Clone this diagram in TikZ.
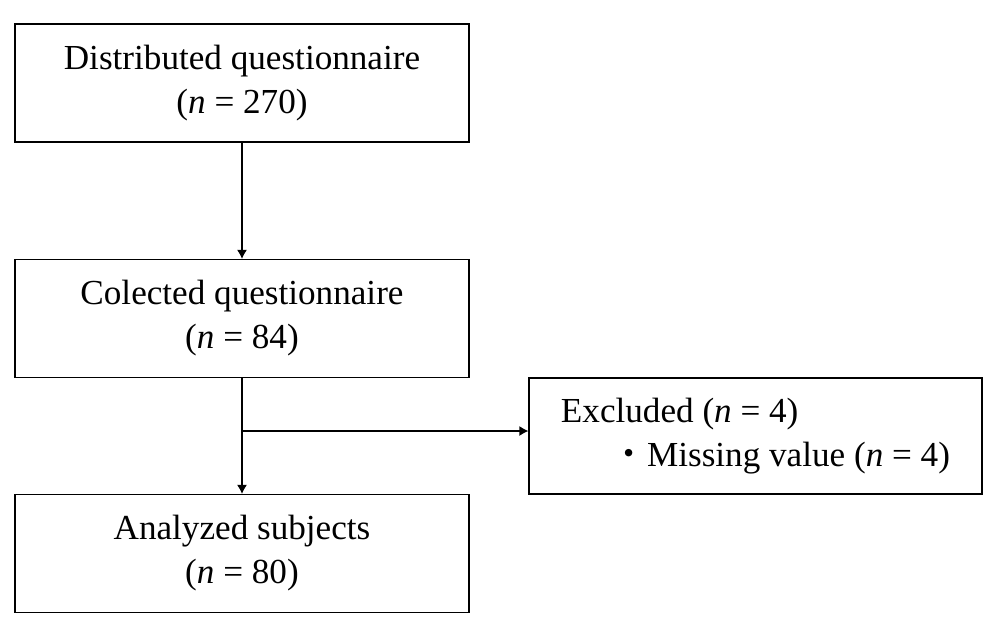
\documentclass[tikz,border=0pt]{standalone}
\usepackage{fontspec}
\setmainfont{Liberation Serif}
\newfontfamily\cjk{Noto Sans CJK JP}
\usetikzlibrary{arrows.meta}

\begin{document}
\begin{tikzpicture}[box/.style={draw,line width=0.7pt,minimum width=9.08cm,minimum height=2.36cm,align=center,font=\fontsize{20}{25}\selectfont},
	flow/.style={line width=0.7pt,-{Latex[length=1.8mm,width=2mm]}}]
				\useasboundingbox (0,0) rectangle (20,-12.66);
				\node[box] (dist) at (4.84,-1.66) {Distributed questionnaire\\(\textit{n} = 270)};
				\node[box] (coll) at (4.84,-6.37) {Colected questionnaire\\(\textit{n} = 84)};
				\node[box] (anal) at (4.84,-11.07) {Analyzed subjects\\(\textit{n} = 80)};
				\node[box,align=left,minimum width=9.06cm,minimum height=2.32cm] (excl) at (15.11,-8.72) {Excluded (\textit{n} = 4)\\\hspace*{1.45em}{\cjk ・}Missing value (\textit{n} = 4)};
				\coordinate (split) at (4.84,-8.62);
				\draw[flow] (dist) -- (coll);
				\draw[line width=0.7pt] (coll) -- (split);
				\draw[flow] (split) -- (anal);
				\draw[flow] (split) -- (excl.west |- split);
			\end{tikzpicture}
\end{document}
